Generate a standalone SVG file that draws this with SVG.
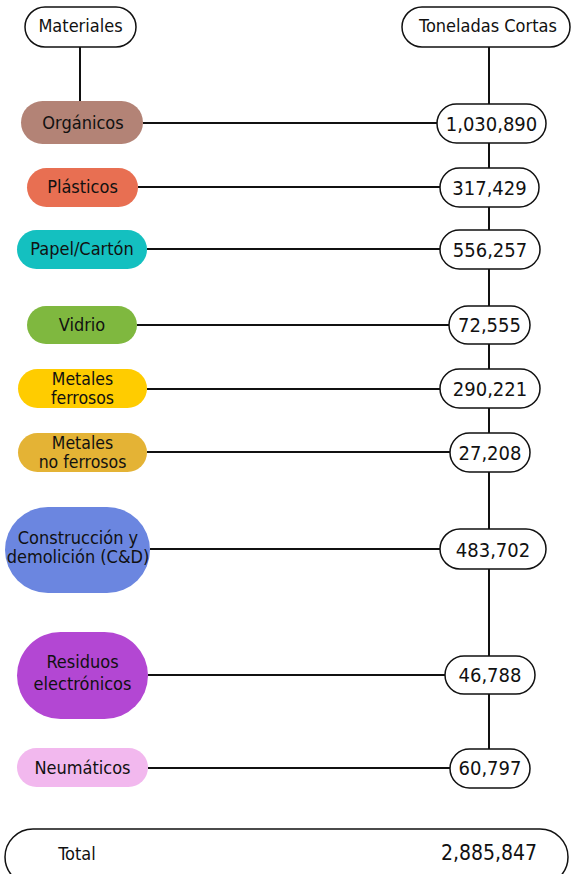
<svg xmlns="http://www.w3.org/2000/svg" width="571" height="874" viewBox="0 0 571 874">
<style>
text{font-family:"DejaVu Sans Condensed","DejaVu Sans",sans-serif;font-stretch:condensed;fill:#111;text-anchor:middle}
.lab{font-size:18px}
.sm{font-size:17.5px}
.val{font-size:20px}
.wb{fill:#fff;stroke:#111;stroke-width:1.5}
.lb{stroke:none}
.c line{stroke:#111;stroke-width:2}
</style>
<g class="c" id="connectors">
<line x1="80" y1="47" x2="80" y2="101"/>
<line x1="489" y1="47" x2="489" y2="749"/>
<line x1="143" y1="123" x2="437" y2="123"/>
<line x1="138" y1="187" x2="440" y2="187"/>
<line x1="147" y1="249" x2="440" y2="249"/>
<line x1="137" y1="325" x2="449" y2="325"/>
<line x1="147" y1="389" x2="440" y2="389"/>
<line x1="147" y1="452" x2="450" y2="452"/>
<line x1="150" y1="549" x2="440" y2="549"/>
<line x1="148" y1="675" x2="445" y2="675"/>
<line x1="148" y1="768" x2="450" y2="768"/>
</g>
<g id="materiales"><rect class="wb" x="25" y="7" width="111" height="40" rx="20"/><text class="lab" x="80.5" y="32">Materiales</text></g>
<g id="toneladas"><rect class="wb" x="402" y="7" width="168" height="40" rx="20"/><text class="lab" x="488" y="32">Toneladas Cortas</text></g>

<g id="organicos"><rect class="lb" x="21" y="101" width="122" height="43" rx="21.5" fill="#b38376"/><text class="lab" x="83" y="129">Orgánicos</text></g>
<g id="v-organicos"><rect class="wb" x="437" y="104" width="109" height="39" rx="19.5"/><text class="val" x="491.5" y="131">1,030,890</text></g>

<g id="plasticos"><rect class="lb" x="27" y="168" width="111" height="39" rx="19.5" fill="#e86f52"/><text class="lab" x="82.5" y="193">Plásticos</text></g>
<g id="v-plasticos"><rect class="wb" x="440" y="168" width="99" height="39" rx="19.5"/><text class="val" x="489.5" y="195">317,429</text></g>

<g id="papel"><rect class="lb" x="17" y="230" width="130" height="39" rx="19.5" fill="#14c0c0"/><text class="lab" x="82" y="255">Papel/Cartón</text></g>
<g id="v-papel"><rect class="wb" x="440" y="230" width="100" height="39" rx="19.5"/><text class="val" x="490" y="257">556,257</text></g>

<g id="vidrio"><rect class="lb" x="27" y="306" width="110" height="38" rx="19" fill="#7fb83f"/><text class="lab" x="82" y="331">Vidrio</text></g>
<g id="v-vidrio"><rect class="wb" x="449" y="306" width="81" height="38" rx="19"/><text class="val" x="489.5" y="332">72,555</text></g>

<g id="ferrosos"><rect class="lb" x="18" y="369" width="129" height="39" rx="19.5" fill="#ffcc00"/><text class="sm" x="82.5" y="385">Metales</text><text class="sm" x="82.5" y="404">ferrosos</text></g>
<g id="v-ferrosos"><rect class="wb" x="440" y="369" width="100" height="39" rx="19.5"/><text class="val" x="490" y="396">290,221</text></g>

<g id="noferrosos"><rect class="lb" x="18" y="433" width="129" height="39" rx="19.5" fill="#e4b335"/><text class="sm" x="82.5" y="449">Metales</text><text class="sm" x="82.5" y="468">no ferrosos</text></g>
<g id="v-noferrosos"><rect class="wb" x="450" y="433" width="80" height="39" rx="19.5"/><text class="val" x="490" y="460">27,208</text></g>

<g id="cd"><rect class="lb" x="5" y="507" width="145" height="86" rx="43" fill="#6b86e0"/><text class="lab" x="78" y="544">Construcción y</text><text class="lab" x="78" y="563">demolición (C&amp;D)</text></g>
<g id="v-cd"><rect class="wb" x="440" y="529" width="106" height="40" rx="20"/><text class="val" x="493" y="557">483,702</text></g>

<g id="electronicos"><rect class="lb" x="17" y="632" width="131" height="87" rx="43.5" fill="#b347d3"/><text class="lab" x="82.5" y="668">Residuos</text><text class="lab" x="82.5" y="690">electrónicos</text></g>
<g id="v-electronicos"><rect class="wb" x="445" y="656" width="90" height="38" rx="19"/><text class="val" x="490" y="682">46,788</text></g>

<g id="neumaticos"><rect class="lb" x="17" y="748" width="131" height="39" rx="19.5" fill="#f2b8ee"/><text class="lab" x="82.5" y="774">Neumáticos</text></g>
<g id="v-neumaticos"><rect class="wb" x="450" y="749" width="80" height="39" rx="19.5"/><text class="val" x="490" y="775">60,797</text></g>

<g id="total"><rect class="wb" x="5" y="829" width="563" height="56" rx="28"/><text class="lab" x="77" y="860">Total</text><text class="val" x="489" y="860" style="font-size:21px">2,885,847</text></g>
</svg>
